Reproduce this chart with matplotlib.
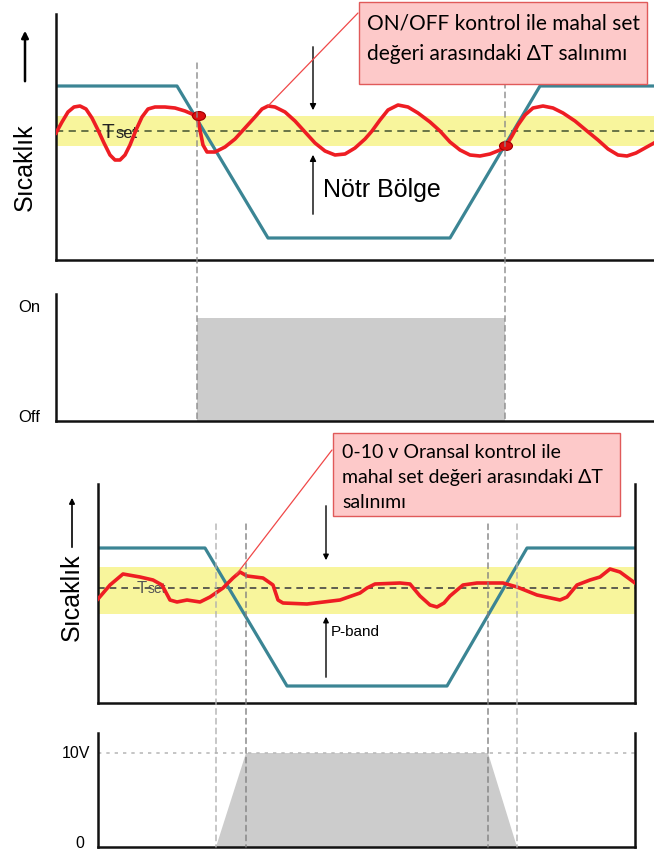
import matplotlib
matplotlib.use("Agg")
import matplotlib.pyplot as plt
from matplotlib.patches import Ellipse, Rectangle, ConnectionPatch

plt.rcParams['font.family'] = ['Liberation Sans', 'DejaVu Sans']

# ---- ON/OFF control (top): time t, temperature T (arbitrary units) ----
t_red1 = [0, 6, 12, 18, 24, 30, 36, 42, 48, 54, 59, 64, 69, 74, 80, 86, 92, 99, 109, 119,
          129, 136, 140, 142, 144, 147, 151, 159, 169, 179, 189, 199, 206, 212, 219, 229, 239, 249,
          259, 269, 279, 289, 299, 309, 316, 324, 332, 342, 352, 362, 374, 384, 394, 404, 414,
          424, 434, 444, 450, 456, 462, 469, 477, 487, 497, 507, 519, 531, 542, 552, 562, 571,
          580, 589, 598]
T_red1 = [127, 138, 148, 153, 154, 151, 142, 130, 117, 105, 100, 100, 105, 115, 130, 143, 151, 153,
          153, 152, 149, 146, 142, 140, 130, 115, 108, 108, 113, 121, 132, 143, 151, 154, 153, 148,
          139, 128, 117, 109, 105, 106, 112, 121, 129, 140, 150, 155, 153, 147, 138, 129, 118,
          110, 105, 104, 106, 110, 114, 124, 135, 145, 152, 154, 152, 147, 139, 129, 120, 111,
          105, 104, 107, 112, 117]
t_blue1 = [0, 121, 212, 394, 484, 598]
T_blue1 = [174, 174, 22, 22, 174, 174]
tset1 = 129
band1 = (114, 144)
t_switch1 = [143, 450]
T_switch1 = [144, 114]
onoff_t = [141, 449]

# ---- 0-10 V proportional control (bottom) ----
t_red2 = [0, 12, 25, 42, 55, 64, 72, 79, 89, 102, 112, 125, 135, 142, 149, 165, 175, 180, 185,
          209, 242, 262, 269, 277, 302, 312, 322, 332, 339, 346, 352, 365, 379, 405, 419, 439,
          462, 469, 479, 492, 502, 512, 522, 537]
T_red2 = [104, 118, 129, 126, 123, 118, 103, 101, 103, 101, 106, 115, 125, 131, 127, 125, 118, 103, 100,
          99, 103, 110, 115, 119, 120, 119, 107, 98, 96, 100, 107, 118, 120, 120, 116, 108,
          103, 106, 118, 123, 126, 134, 131, 120]
t_blue2 = [0, 107, 189, 349, 429, 537]
T_blue2 = [155, 155, 17, 17, 155, 155]
tset2 = 115
band2 = (89, 136)
volt_t = [118, 148, 390, 419]
volt_v = [0, 10, 10, 0]

W, H = 654, 850
RED = '#ee1d23'
BLUE = '#3b8594'
YEL = '#f8f59c'

fig = plt.figure(figsize=(W / 100, H / 100), dpi=100)


def rect(x0, y0, x1, y1):
    return [x0 / W, 1 - y1 / H, (x1 - x0) / W, (y1 - y0) / H]


axA = fig.add_axes(rect(56, 14, 654, 260))
axB = fig.add_axes(rect(56, 294, 654, 421))
axC = fig.add_axes(rect(98, 484, 635, 703))
axD = fig.add_axes(rect(98, 733, 635, 847))

for ax, right in [(axA, False), (axB, False), (axC, True), (axD, True)]:
    ax.set_facecolor('none')
    ax.set_xticks([])
    ax.set_yticks([])
    ax.spines['top'].set_visible(False)
    ax.spines['right'].set_visible(right)
    for s in ['left', 'bottom', 'right']:
        ax.spines[s].set_linewidth(1.8)
        ax.spines[s].set_color('#111111')

# top panel
axA.set_xlim(0, 598)
axA.set_ylim(0, 246)
axA.axhspan(band1[0], band1[1], color=YEL, zorder=0, lw=0)
axA.axhline(tset1, ls=(0, (4, 3)), color='#5d6a40', lw=1.3, zorder=1)
axA.plot(t_blue1, T_blue1, color=BLUE, lw=2.3, zorder=2)
axA.plot(t_red1, T_red1, color=RED, lw=2.6, zorder=3, solid_joinstyle='round')
for t, T in zip(t_switch1, T_switch1):
    axA.add_patch(Ellipse((t, T), 13, 9, fc='#dd1010', ec='#a00000', lw=0.8, zorder=4))
axA.text(46, 122, 'T', fontsize=15, va='baseline', color='#222222', zorder=2)
axA.text(60, 122, 'set', fontsize=12, va='baseline', color='#222222', zorder=2)
axA.annotate('', xy=(257, 147), xytext=(257, 216),
             arrowprops=dict(arrowstyle='-|>', color='black', lw=1, mutation_scale=9))
axA.annotate('', xy=(257, 108), xytext=(257, 43),
             arrowprops=dict(arrowstyle='-|>', color='black', lw=1, mutation_scale=9))
axA.text(267, 70, 'Nötr Bölge', fontsize=18, va='center')

# on/off panel
axB.set_xlim(0, 598)
axB.set_ylim(0, 1.233)
axB.fill_between([onoff_t[0], onoff_t[1]], 0, 1, color='#cccccc', lw=0)
axB.text(-27, 1.10, 'On', fontsize=12, ha='center', va='center')
axB.text(-27, 0.03, 'Off', fontsize=12, ha='center', va='center')

for t in onoff_t:
    cp = ConnectionPatch((t, 197), (t, 0), coordsA=axA.transData, coordsB=axB.transData,
                         color='#8a8a8a', lw=1, ls=(0, (4, 3)), zorder=1)
    fig.add_artist(cp)

# proportional panel
axC.set_xlim(0, 537)
axC.set_ylim(0, 219)
axC.axhspan(band2[0], band2[1], color=YEL, zorder=0, lw=0)
axC.axhline(tset2, ls=(0, (4, 3)), color='#444444', lw=1.2, zorder=1)
axC.plot(t_blue2, T_blue2, color=BLUE, lw=2.3, zorder=2)
axC.plot(t_red2, T_red2, color=RED, lw=2.6, zorder=3, solid_joinstyle='round')
axC.text(39, 110, 'T', fontsize=12, va='baseline', color='#555555', zorder=2)
axC.text(50, 110, 'set', fontsize=10, va='baseline', color='#555555', zorder=2)
axC.annotate('', xy=(228, 140), xytext=(228, 200),
             arrowprops=dict(arrowstyle='-|>', color='black', lw=1, mutation_scale=8))
axC.annotate('', xy=(228, 89), xytext=(228, 23),
             arrowprops=dict(arrowstyle='-|>', color='black', lw=1, mutation_scale=8))
axC.text(233, 71, 'P-band', fontsize=11, va='center')

# 0-10 V panel
axD.set_xlim(0, 537)
axD.set_ylim(0, 12.13)
axD.fill(volt_t, volt_v, color='#cccccc', lw=0)
axD.axhline(10, ls=(0, (2, 3)), color='#bbbbbb', lw=1.2)
axD.text(-8, 10, '10V', fontsize=11.5, ha='right', va='center')
axD.text(-18, 0.4, '0', fontsize=11.5, ha='center', va='center')

for i, t in enumerate(volt_t):
    col = '#b0b0b0' if i in (0, 3) else '#808080'
    cp = ConnectionPatch((t, 179), (t, 0), coordsA=axC.transData, coordsB=axD.transData,
                         color=col, lw=1, ls=(0, (4, 3)), zorder=1)
    fig.add_artist(cp)

# y labels with arrows
fig.text(25 / W, 1 - 167 / H, 'Sıcaklık', rotation=90, ha='center', va='center', fontsize=18)
fig.text(72 / W, 1 - 597 / H, 'Sıcaklık', rotation=90, ha='center', va='center', fontsize=18)
axA.annotate('', xy=(25, H - 28), xycoords='figure pixels', xytext=(25, H - 84),
             textcoords='figure pixels', annotation_clip=False,
             arrowprops=dict(arrowstyle='-|>', color='black', lw=1.8, mutation_scale=10))
axA.annotate('', xy=(72, H - 495), xycoords='figure pixels', xytext=(72, H - 550),
             textcoords='figure pixels', annotation_clip=False,
             arrowprops=dict(arrowstyle='-|>', color='black', lw=1.2, mutation_scale=8))

# callout boxes
box_font = ['Lato', 'DejaVu Sans']
fig.add_artist(Rectangle((359 / W, 1 - 84 / H), 288 / W, 82 / H, transform=fig.transFigure,
                         fc='#fdc9c9', ec='#e05a5a', lw=1, zorder=5))
fig.text(367 / W, 1 - 23 / H, 'ON/OFF kontrol ile mahal set', family=box_font,
         fontsize=15, va='center', zorder=6)
fig.text(367 / W, 1 - 54 / H, 'değeri arasındaki ΔT salınımı', family=box_font,
         fontsize=15, va='center', zorder=6)
fig.add_artist(ConnectionPatch((358, H - 13), (212, 154), coordsA='figure pixels',
                               coordsB=axA.transData, color='#f04848', lw=0.9, zorder=4))

fig.add_artist(Rectangle((333 / W, 1 - 516 / H), 287 / W, 83 / H, transform=fig.transFigure,
                         fc='#fdc9c9', ec='#e05a5a', lw=1, zorder=5))
for k, line in enumerate(['0-10 v Oransal kontrol ile', 'mahal set değeri arasındaki ΔT', 'salınımı']):
    fig.text(342 / W, 1 - (452 + 25 * k) / H, line, family=box_font, fontsize=14,
             va='center', zorder=6)
fig.add_artist(ConnectionPatch((332, H - 450), (138, 128), coordsA='figure pixels',
                               coordsB=axC.transData, color='#f04848', lw=0.9, zorder=4))

fig.savefig('out.png', dpi=100)
